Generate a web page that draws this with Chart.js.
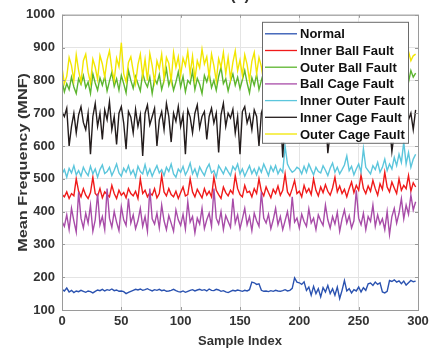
<!DOCTYPE html>
<html>
<head>
<meta charset="utf-8">
<title>Mean Frequency (MNF)</title>
<script src="https://cdn.jsdelivr.net/npm/chart.js@4/dist/chart.umd.min.js"></script>
<style>
    html, body { margin: 0; padding: 0; background: #fff; }
    #mnf-wrap { width: 441px; height: 352px; }
</style>
</head>
<body>
<div id="mnf-wrap"><canvas id="mnf-chart" width="441" height="352"></canvas></div>
<script>
// Readings are stored every 2nd sample index (0, 2, ... 298)
const sampleStep = 2;

const xTicks = [0, 50, 100, 150, 200, 250, 300];
const yTicks = [100, 200, 300, 400, 500, 600, 700, 800, 900, 1000];

const seriesNames = [
    'Normal',
    'Inner Ball Fault',
    'Outer Ball Fault',
    'Ball Cage Fault',
    'Inner Outer Fault',
    'Inner Cage Fault',
    'Outer Cage Fault'
];

const normal = [
    163,158,167,155,160,153,158,156,160,157,
    154,158,156,152,157,161,159,163,158,162,
    160,164,159,161,157,158,156,150,154,157,
    160,163,161,164,160,162,165,161,158,162,
    160,163,159,161,157,158,160,163,159,156,
    155,158,154,157,160,162,158,161,163,160,
    162,158,164,160,159,163,161,157,159,155,
    153,157,160,158,161,159,157,160,158,162,
    185,183,178,180,160,157,158,156,159,157,
    160,158,157,159,162,158,160,166,198,185,
    183,178,186,160,170,145,172,150,165,140,
    168,155,175,150,165,145,170,135,160,190,
    158,165,152,162,158,170,155,168,160,180,
    182,175,185,178,183,155,152,157,190,187,
    192,185,189,180,188,176,183,190,186,188
];

const innerBallFault = [
    452,445,460,440,455,448,500,462,445,470,
    450,440,458,505,455,447,470,442,460,452,
    445,480,455,440,465,450,458,442,470,455,
    448,462,440,500,455,465,445,458,450,470,
    442,455,510,460,448,470,452,445,462,440,
    458,475,448,452,500,460,445,468,455,442,
    470,450,462,445,505,465,452,440,475,458,
    448,465,455,510,470,452,445,480,458,462,
    445,470,455,500,462,448,475,458,442,468,
    455,478,450,465,515,460,448,470,495,455,
    462,445,480,458,470,452,500,465,448,475,
    458,482,462,450,472,505,460,478,455,468,
    445,470,490,458,480,465,512,470,455,478,
    462,495,470,450,485,468,520,475,460,490,
    472,455,500,465,480,470,510,462,488,475
];

const outerBallFault = [
    800,765,790,772,810,780,760,805,788,815,
    778,795,760,820,792,770,808,785,812,768,
    798,825,782,805,770,815,790,762,830,800,
    776,812,790,768,822,795,780,810,760,805,
    790,818,772,800,835,785,808,770,795,826,
    780,812,765,800,790,828,772,806,788,760,
    815,795,822,778,800,770,812,840,790,805,
    768,798,820,785,810,775,802,830,792,762,
    808,785,818,772,800,826,790,775,812,798,
    770,805,822,788,810,778,796,825,780,800,
    815,792,768,806,830,785,800,772,818,795,
    808,776,822,790,765,812,798,835,782,805,
    790,815,770,800,825,788,808,775,796,820,
    785,810,772,805,830,795,780,815,768,800,
    812,790,825,778,808,760,795,830,810,822
];

const ballCageFault = [
    370,355,390,345,410,372,338,460,380,350,
    395,365,420,340,375,455,360,385,345,470,
    380,352,400,368,342,415,375,358,440,365,
    390,348,372,410,355,385,340,470,378,362,
    395,350,420,372,345,388,365,340,405,375,
    358,392,347,430,368,385,335,380,362,410,
    348,375,395,355,470,380,362,400,345,388,
    370,352,440,365,390,348,378,410,360,385,
    342,395,372,355,460,380,365,392,348,375,
    410,360,385,345,372,400,355,445,368,380,
    350,392,370,355,408,365,380,345,390,372,
    358,420,375,350,385,362,398,340,378,405,
    365,388,350,372,465,380,360,395,345,385,
    370,420,355,390,362,378,345,400,330,385,
    410,365,395,440,378,420,392,450,405,430
];

const innerOuterFault = [
    515,528,505,532,518,540,512,525,508,535,
    520,510,538,515,530,505,528,542,516,522,
    535,510,526,545,518,508,532,520,540,514,
    527,505,538,522,515,543,512,530,508,525,
    540,518,528,510,535,522,545,515,505,530,
    520,538,512,526,548,515,530,508,536,522,
    510,532,545,518,525,505,540,528,515,535,
    522,510,538,527,545,515,530,508,524,540,
    516,530,512,535,520,545,528,510,538,522,
    540,515,530,520,600,545,530,520,525,535,
    530,515,538,520,545,528,512,535,522,518,
    540,526,510,532,548,520,535,515,528,542,
    570,525,538,512,530,545,520,592,535,525,
    515,540,528,550,520,535,560,525,545,530,
    565,540,575,550,612,545,580,535,560,575
];

const innerCageFault = [
    705,690,715,600,660,700,640,695,720,672,
    650,700,575,690,730,660,700,620,710,680,
    735,650,690,605,700,720,670,590,705,688,
    640,712,660,695,570,700,725,665,690,715,
    600,680,705,650,730,690,612,700,675,720,
    660,695,575,710,688,640,700,725,655,690,
    705,620,690,715,670,700,580,695,730,660,
    700,685,712,640,690,575,705,720,670,695,
    650,710,690,600,700,725,668,695,640,715,
    690,700,705,565,680,720,655,700,690,640,
    710,695,670,730,650,700,685,640,715,690,
    660,705,578,640,695,680,710,650,700,725,
    670,690,645,710,700,635,720,685,660,705,
    690,720,650,700,630,710,690,735,665,583,
    640,715,690,705,660,725,680,700,650,710
];

const outerCageFault = [
    840,790,812,870,845,800,878,830,795,860,
    880,825,792,865,840,803,876,850,810,862,
    890,835,800,868,842,915,820,795,855,872,
    830,790,848,880,812,865,800,882,845,795,
    860,835,880,805,870,852,798,885,840,872,
    815,868,845,888,820,874,803,860,838,895,
    850,872,810,880,845,798,866,840,885,820,
    870,805,855,890,830,862,815,878,848,800,
    858,885,820,870,842,795,880,860,812,875,
    845,890,828,866,805,855,882,838,870,815,
    862,848,890,822,875,800,858,884,835,868,
    812,878,850,895,826,868,808,872,845,888,
    830,864,802,880,852,815,875,840,893,822,
    868,845,885,810,872,838,890,826,860,808,
    876,850,895,832,870,815,888,860,875,880
];

(function() {
    'use strict';

    const MnfChart = {
        chart: null,

        // line colours, same order as seriesNames
        colors: ['#2a52b0', '#f01a1a', '#5cb52e', '#a84ca8', '#5cc6dc', '#231c1c', '#f2e600'],

        textColor: '#333333',
        frameColor: '#9a9a9a',
        gridColor: '#e4e4e4',
        fontFamily: '"Liberation Sans", Arial, Helvetica, sans-serif',

        init: function() {
            Chart.defaults.font.family = this.fontFamily;
            Chart.defaults.color = this.textColor;
            this.createChart();
        },

        /**
         * Build one line dataset per series
         */
        buildDatasets: function() {
            const series = [normal, innerBallFault, outerBallFault, ballCageFault,
                innerOuterFault, innerCageFault, outerCageFault];

            return series.map((values, i) => ({
                label: seriesNames[i],
                data: values.map((v, k) => ({ x: k * sampleStep, y: v })),
                borderColor: this.colors[i],
                backgroundColor: this.colors[i],
                borderWidth: 1.4,
                pointRadius: 0,
                tension: 0,
                fill: false,
                // later series are drawn on top, like the original plot
                order: series.length - i
            }));
        },

        /**
         * Axes box with inward ticks
         */
        framePlugin: function() {
            const self = this;
            return {
                id: 'axesFrame',
                afterDatasetsDraw: function(chart) {
                    const ctx = chart.ctx;
                    const a = chart.chartArea;
                    const xs = chart.scales.x;
                    const ys = chart.scales.y;
                    ctx.save();
                    ctx.strokeStyle = self.frameColor;
                    ctx.lineWidth = 1;
                    ctx.strokeRect(a.left + 0.5, a.top + 0.5, a.right - a.left, a.bottom - a.top);
                    ctx.beginPath();
                    xTicks.forEach(t => {
                        const px = Math.round(xs.getPixelForValue(t)) + 0.5;
                        ctx.moveTo(px, a.bottom); ctx.lineTo(px, a.bottom - 3);
                        ctx.moveTo(px, a.top); ctx.lineTo(px, a.top + 3);
                    });
                    yTicks.forEach(t => {
                        const py = Math.round(ys.getPixelForValue(t)) + 0.5;
                        ctx.moveTo(a.left, py); ctx.lineTo(a.left + 3, py);
                        ctx.moveTo(a.right, py); ctx.lineTo(a.right - 3, py);
                    });
                    ctx.stroke();
                    ctx.restore();
                }
            };
        },

        /**
         * Legend boxed inside the top right of the plot
         */
        legendPlugin: function() {
            const self = this;
            return {
                id: 'insideLegend',
                afterDraw: function(chart) {
                    const ctx = chart.ctx;
                    const a = chart.chartArea;
                    const rowH = 16.7;
                    const width = 146;
                    const height = 121;
                    const left = a.right - 10 - width;
                    const top = a.top + 7;

                    ctx.save();
                    ctx.fillStyle = '#ffffff';
                    ctx.fillRect(left, top, width, height);
                    ctx.strokeStyle = '#6a6a6a';
                    ctx.lineWidth = 1;
                    ctx.strokeRect(left + 0.5, top + 0.5, width, height);

                    ctx.font = 'bold 13px ' + self.fontFamily;
                    ctx.textBaseline = 'middle';
                    ctx.textAlign = 'left';
                    chart.data.datasets.forEach((ds, i) => {
                        const y = top + 12 + i * rowH;
                        ctx.strokeStyle = ds.borderColor;
                        ctx.lineWidth = 1.3;
                        ctx.beginPath();
                        ctx.moveTo(left + 3, y);
                        ctx.lineTo(left + 35, y);
                        ctx.stroke();
                        ctx.fillStyle = '#111111';
                        ctx.fillText(ds.label, left + 38, y + 1);
                    });
                    ctx.restore();
                }
            };
        },

        /**
         * Y axis title and the clipped panel label at the top
         */
        labelsPlugin: function() {
            const self = this;
            return {
                id: 'extraLabels',
                afterDraw: function(chart) {
                    const ctx = chart.ctx;
                    const a = chart.chartArea;
                    ctx.save();
                    ctx.fillStyle = self.textColor;
                    ctx.textAlign = 'center';
                    ctx.textBaseline = 'middle';
                    ctx.font = 'bold 13px ' + self.fontFamily;
                    ctx.translate(23, (a.top + a.bottom) / 2);
                    ctx.rotate(-Math.PI / 2);
                    ctx.scale(1.25, 1);
                    ctx.fillText('Mean Frequency (MNF)', 0, 0);
                    ctx.restore();

                    ctx.save();
                    ctx.fillStyle = self.textColor;
                    ctx.textAlign = 'center';
                    ctx.textBaseline = 'alphabetic';
                    ctx.font = 'bold 16px ' + self.fontFamily;
                    ctx.fillText('(a)', (a.left + a.right) / 2, 0);
                    ctx.restore();
                }
            };
        },

        createChart: function() {
            const ctx = document.getElementById('mnf-chart');
            if (!ctx) return;

            const tickFont = { size: 13, weight: 'bold' };

            this.chart = new Chart(ctx, {
                type: 'line',
                data: {
                    datasets: this.buildDatasets()
                },
                options: {
                    responsive: false,
                    animation: false,
                    layout: {
                        padding: { top: 13, right: 23, left: 0, bottom: 0 }
                    },
                    plugins: {
                        legend: { display: false },
                        tooltip: { enabled: false },
                        title: { display: false }
                    },
                    scales: {
                        x: {
                            type: 'linear',
                            min: xTicks[0],
                            max: xTicks[xTicks.length - 1],
                            afterBuildTicks: scale => {
                                scale.ticks = xTicks.map(v => ({ value: v }));
                            },
                            afterFit: scale => { scale.height = 42; },
                            ticks: {
                                font: tickFont,
                                color: this.textColor,
                                padding: 4,
                                maxRotation: 0,
                                callback: value => String(value)
                            },
                            grid: {
                                color: this.gridColor,
                                drawTicks: false
                            },
                            border: { display: false },
                            title: {
                                display: true,
                                text: 'Sample Index',
                                font: { size: 13, weight: 'bold' },
                                color: this.textColor,
                                padding: { top: 0, bottom: 3 }
                            }
                        },
                        y: {
                            min: yTicks[0],
                            max: yTicks[yTicks.length - 1],
                            afterBuildTicks: scale => {
                                scale.ticks = yTicks.map(v => ({ value: v }));
                            },
                            afterFit: scale => { scale.width = 62; },
                            ticks: {
                                font: tickFont,
                                color: this.textColor,
                                padding: 7,
                                callback: value => String(value)
                            },
                            grid: {
                                color: this.gridColor,
                                drawTicks: false
                            },
                            border: { display: false }
                        }
                    }
                },
                plugins: [this.framePlugin(), this.legendPlugin(), this.labelsPlugin()]
            });
        }
    };

    MnfChart.init();
})();
</script>
</body>
</html>
